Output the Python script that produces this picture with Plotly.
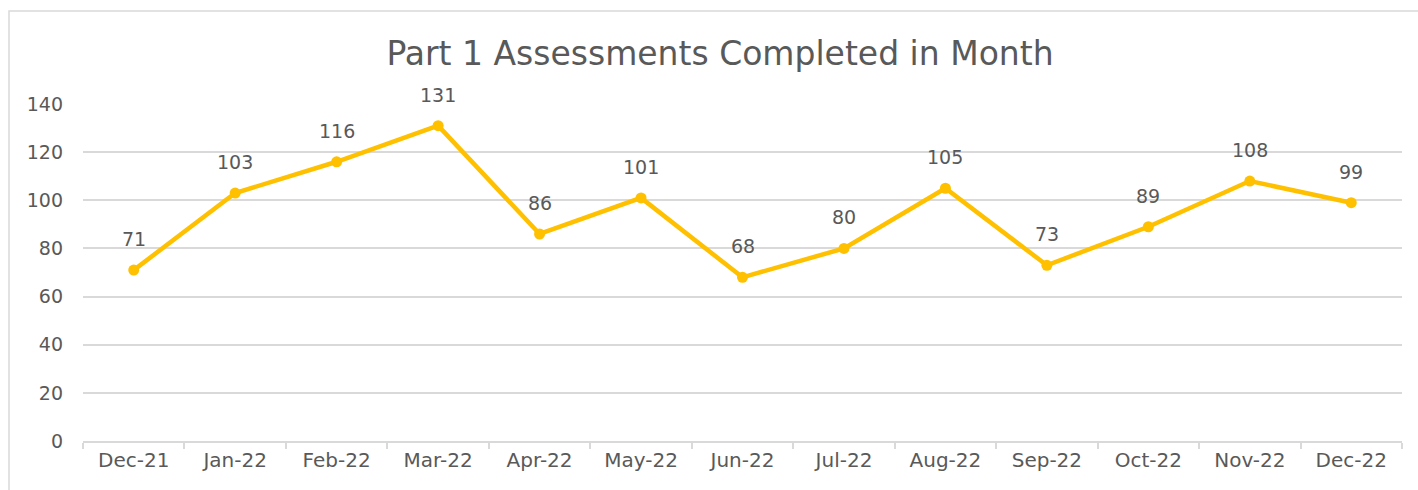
import plotly.graph_objects as go

months = ["Dec-21", "Jan-22", "Feb-22", "Mar-22", "Apr-22", "May-22", "Jun-22",
          "Jul-22", "Aug-22", "Sep-22", "Oct-22", "Nov-22", "Dec-22"]
completed = [71, 103, 116, 131, 86, 101, 68, 80, 105, 73, 89, 108, 99]
y_ticks = [0, 20, 40, 60, 80, 100, 120, 140]

GOLD = "#FFC000"
GRID = "#D9D9D9"
TEXT = "#595959"
FONT = "DejaVu Sans"

W, H = 1418, 490
L, R, T, B = 83, 16, 104, 49
pw, ph = W - L - R, H - T - B

fig = go.Figure()
fig.add_trace(go.Scatter(
    x=months, y=completed, mode="lines+markers",
    line=dict(color=GOLD, width=4.5),
    marker=dict(color=GOLD, size=11),
    hoverinfo="x+y", showlegend=False,
))

for m, v in zip(months, completed):
    fig.add_annotation(x=m, y=v, text=str(v), showarrow=False, yshift=31,
                       font=dict(family=FONT, size=19, color=TEXT))

# outer chart frame
fig.add_shape(type="rect", xref="paper", yref="paper",
              x0=(9 - L) / pw, x1=1.2, y0=-0.5, y1=(H - B - 11) / ph,
              line=dict(color=GRID, width=1.5), fillcolor="rgba(0,0,0,0)", layer="below")

fig.update_layout(
    width=W, height=H,
    margin=dict(l=L, r=R, t=T, b=B),
    paper_bgcolor="white", plot_bgcolor="white",
    title=dict(text="Part 1 Assessments Completed in Month", x=(720 - L) / pw,
               xref="paper", xanchor="center",
               y=1 - 53 / H, yanchor="middle",
               font=dict(family=FONT, size=33, color=TEXT)),
    font=dict(family=FONT, color=TEXT),
    xaxis=dict(
        type="category", tickson="boundaries", ticks="outside", ticklen=6,
        tickcolor=GRID, tickwidth=1.5, showline=True, linecolor=GRID, linewidth=1.5,
        showgrid=False, tickfont=dict(family=FONT, size=20, color=TEXT),
        range=[-0.5, len(months) - 0.5], fixedrange=True,
    ),
    yaxis=dict(
        range=[0, 140], tickvals=y_ticks, showgrid=True, gridcolor=GRID, gridwidth=1.5,
        zeroline=False, showline=False, ticks="", ticklabelstandoff=19,
        tickfont=dict(family=FONT, size=19, color=TEXT), fixedrange=True,
    ),
)

fig.write_html("out.html")
